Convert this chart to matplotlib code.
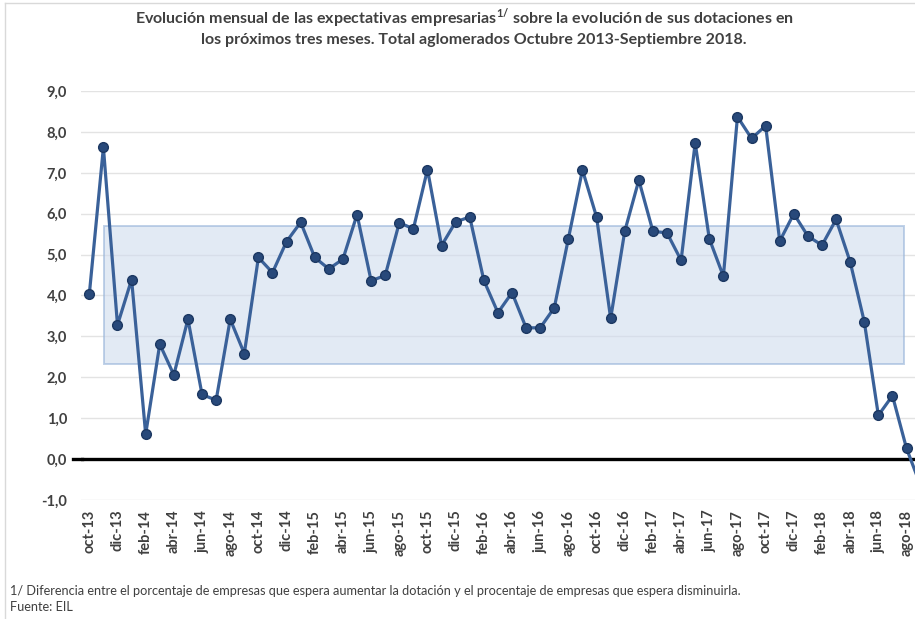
import matplotlib
matplotlib.use('Agg')
import matplotlib.pyplot as plt
from matplotlib.patches import Rectangle
from matplotlib.lines import Line2D

# monthly values, oct-13 .. sep-18
values = [4.03, 7.62, 3.28, 4.39, 0.61, 2.81, 2.06, 3.42, 1.58, 1.44,
          3.42, 2.58, 4.93, 4.56, 5.32, 5.79, 4.93, 4.65, 4.89, 5.98,
          4.36, 4.49, 5.78, 5.63, 7.08, 5.22, 5.80, 5.92, 4.37, 3.58,
          4.07, 3.21, 3.21, 3.70, 5.39, 7.07, 5.92, 3.44, 5.57, 6.82,
          5.57, 5.53, 4.86, 7.73, 5.39, 4.47, 8.37, 7.84, 8.15, 5.33,
          6.00, 5.45, 5.23, 5.86, 4.82, 3.36, 1.07, 1.55, 0.26, -0.65]
tick_labels = ['oct-13', 'dic-13', 'feb-14', 'abr-14', 'jun-14', 'ago-14',
               'oct-14', 'dic-14', 'feb-15', 'abr-15', 'jun-15', 'ago-15',
               'oct-15', 'dic-15', 'feb-16', 'abr-16', 'jun-16', 'ago-16',
               'oct-16', 'dic-16', 'feb-17', 'abr-17', 'jun-17', 'ago-17',
               'oct-17', 'dic-17', 'feb-18', 'abr-18', 'jun-18', 'ago-18']
band_lo, band_hi = 2.32, 5.70

plt.rcParams['font.family'] = ['Lato', 'DejaVu Sans']
plt.rcParams['mathtext.fontset'] = 'custom'
plt.rcParams['mathtext.rm'] = 'Lato'
plt.rcParams['mathtext.bf'] = 'Lato:bold'

fig = plt.figure(figsize=(9.15, 6.19), dpi=100)
ax = fig.add_axes([81 / 915, 1 - 500 / 619, 1 - 81 / 915, 409 / 619])

x = list(range(len(values)))
ax.add_patch(Rectangle((1.05, band_lo), 56.75, band_hi - band_lo,
                       facecolor='#d0dcee', alpha=0.6, edgecolor='#95b3d9',
                       lw=1.4, zorder=1))
ax.plot(x, values, color='#3a6199', lw=2.3, zorder=3,
        marker='o', ms=7, mfc='#28497a', mec='#1c3862', mew=1.0)
ax.axhline(0, color='black', lw=2.4, zorder=2)
ax.add_line(Line2D([-1.15, -0.55], [0, 0], color='black', lw=2.4, clip_on=False))

ax.set_xlim(-0.59, 58.6)
ax.set_ylim(-1, 9)
ax.set_yticks(range(-1, 10))
ax.set_yticklabels([f'{v},0' for v in range(-1, 10)])
ax.set_xticks(range(0, 60, 2))
ax.set_xticklabels(tick_labels, rotation=90)
ax.tick_params(axis='both', length=0, labelcolor='#404040', labelsize=10.5)
ax.tick_params(axis='y', pad=10)
ax.tick_params(axis='x', pad=7)
for lab in ax.get_xticklabels() + ax.get_yticklabels():
    lab.set_fontweight('bold')
ax.grid(axis='y', color='#e3e3e3', lw=1.0, zorder=0)
ax.set_axisbelow(True)
for s in ax.spines.values():
    s.set_visible(False)

fig.text(0.508, 1 - 18 / 619,
         r'Evolución mensual de las expectativas empresarias$^{\mathbf{1/}}$ sobre la evolución de sus dotaciones en',
         ha='center', va='center', fontsize=11.5, fontweight='bold', color='#404040')
fig.text(0.518, 1 - 40 / 619,
         'los próximos tres meses. Total aglomerados Octubre 2013-Septiembre 2018.',
         ha='center', va='center', fontsize=11.5, fontweight='bold', color='#404040')
fig.text(10 / 915, 1 - 591 / 619,
         '1/ Diferencia entre el porcentaje de empresas que espera aumentar la dotación y el procentaje de empresas que espera disminuirla.',
         ha='left', va='center', fontsize=9.2, color='#404040')
fig.text(10 / 915, 1 - 607 / 619, 'Fuente: EIL',
         ha='left', va='center', fontsize=9.2, color='#404040')

fig.add_artist(Line2D([5 / 915, 1], [1 - 3 / 619, 1 - 3 / 619], color='#d9d9d9', lw=1))
fig.add_artist(Line2D([5 / 915, 5 / 915], [0, 1 - 3 / 619], color='#d9d9d9', lw=1))

fig.savefig('out.png', dpi=100)
